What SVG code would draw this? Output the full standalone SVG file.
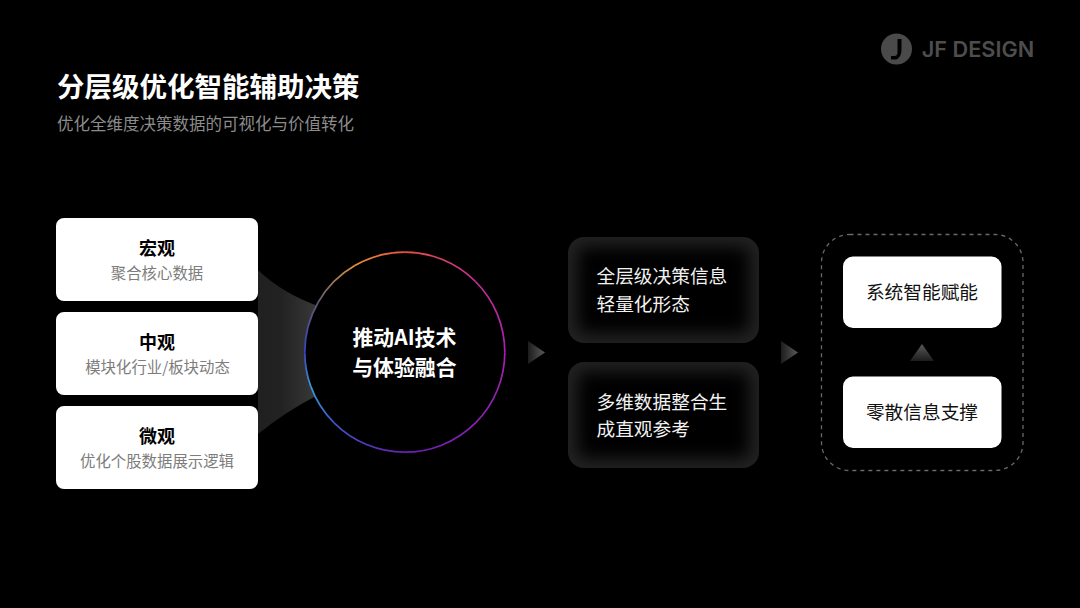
<svg xmlns="http://www.w3.org/2000/svg" width="1080" height="608" viewBox="0 0 1080 608">
<style>
text{font-family:"Noto Sans CJK SC","Noto Sans",sans-serif;text-anchor:middle}
.card{fill:#fff}
.ct{font-size:18px;font-weight:700;fill:#000}
.cs{font-size:15.4px;fill:#7d7d7d}
.mid{font-size:18.7px;fill:#f2f2f2;text-anchor:start}
.wt{font-size:18.7px;fill:#111}
.ring{fill:none;stroke-width:1.7}
</style>
<defs>
<linearGradient id="fun" gradientUnits="userSpaceOnUse" x1="258" y1="0" x2="316" y2="0"><stop offset="0" stop-color="#202020"/><stop offset=".4" stop-color="#222"/><stop offset="1" stop-color="#383838"/></linearGradient>
<linearGradient id="ar" x1="0" y1="0" x2="1" y2="0"><stop offset="0" stop-color="#1c1c1c"/><stop offset="1" stop-color="#5a5a5a"/></linearGradient>
<linearGradient id="au" x1="0" y1="0" x2="0" y2="1"><stop offset="0" stop-color="#5a5a5a"/><stop offset="1" stop-color="#1c1c1c"/></linearGradient>
<linearGradient id="r1" gradientUnits="userSpaceOnUse" x1="404.8" y1="252.2" x2="475.5" y2="281.5"><stop offset="0" stop-color="#e8503f"/><stop offset="1" stop-color="#c92f95"/></linearGradient>
<linearGradient id="r2" gradientUnits="userSpaceOnUse" x1="475.5" y1="281.5" x2="504.8" y2="352.2"><stop offset="0" stop-color="#c92f95"/><stop offset="1" stop-color="#a820b0"/></linearGradient>
<linearGradient id="r3" gradientUnits="userSpaceOnUse" x1="504.8" y1="352.2" x2="404.8" y2="452.2"><stop offset="0" stop-color="#a820b0"/><stop offset="1" stop-color="#6a20b4"/></linearGradient>
<linearGradient id="r4" gradientUnits="userSpaceOnUse" x1="404.8" y1="452.2" x2="334.1" y2="422.9"><stop offset="0" stop-color="#6a20b4"/><stop offset="1" stop-color="#3f55c8"/></linearGradient>
<linearGradient id="r5" gradientUnits="userSpaceOnUse" x1="334.1" y1="422.9" x2="310.8" y2="386.4"><stop offset="0" stop-color="#3f55c8"/><stop offset="1" stop-color="#369bdc"/></linearGradient>
<linearGradient id="r6" gradientUnits="userSpaceOnUse" x1="310.8" y1="386.4" x2="304.8" y2="352.2"><stop offset="0" stop-color="#369bdc"/><stop offset="1" stop-color="#3a45c0"/></linearGradient>
<linearGradient id="r7" gradientUnits="userSpaceOnUse" x1="304.8" y1="352.2" x2="318.2" y2="302.2"><stop offset="0" stop-color="#3a45c0"/><stop offset="1" stop-color="#5f5a70"/></linearGradient>
<linearGradient id="r8" gradientUnits="userSpaceOnUse" x1="318.2" y1="302.2" x2="354.8" y2="265.6"><stop offset="0" stop-color="#5f5a70"/><stop offset="1" stop-color="#e0933a"/></linearGradient>
<linearGradient id="r9" gradientUnits="userSpaceOnUse" x1="354.8" y1="265.6" x2="404.8" y2="252.2"><stop offset="0" stop-color="#e0933a"/><stop offset="1" stop-color="#e8503f"/></linearGradient>
<filter id="soft" x="-20%" y="-20%" width="140%" height="140%"><feGaussianBlur stdDeviation="8"/></filter>
<clipPath id="c1"><rect x="568" y="237" width="191" height="106" rx="16"/></clipPath>
<clipPath id="c2"><rect x="568" y="362" width="191" height="106" rx="16"/></clipPath>
</defs>
<rect width="1080" height="608" fill="#000"/>
<g id="logo">
<circle cx="896.500" cy="49" r="15.500" fill="#4a4a4a"/>
<path d="M897.500 39H901.500V50Q901.500 56.500 896.500 59.500H891V56H894.500Q897.500 56 897.500 52Z" fill="#000"/>
<text x="978" y="57" style="font-family:Inter,sans-serif;font-size:21.700px;font-weight:600;fill:#4d4d4d">JF DESIGN</text>
</g>
<g id="title">
<text x="57" y="97" style="font-size:27.500px;font-weight:700;fill:#fff;text-anchor:start">分层级优化智能辅助决策</text>
<text x="57" y="130" style="font-size:16.500px;fill:#8c8c8c;text-anchor:start">优化全维度决策数据的可视化与价值转化</text>
</g>
<g id="connectors">
<path d="M258 270Q282 293 318 306L316 396Q285 412 258 434Z" fill="url(#fun)"/>
<path d="M528 341L545 352.500L528 364Z" fill="url(#ar)"/>
<path d="M781 341L798 352.500L781 364Z" fill="url(#ar)"/>
<path d="M922 344L934 361H910Z" fill="url(#au)"/>
</g>
<g id="node-macro"><rect class="card" x="56" y="218" width="202" height="83" rx="8"/><text class="ct" x="157" y="255">宏观</text><text class="cs" x="157" y="279">聚合核心数据</text></g>
<g id="node-meso"><rect class="card" x="56" y="312" width="202" height="83" rx="8"/><text class="ct" x="157" y="349">中观</text><text class="cs" x="157.500" y="373">模块化行业/板块动态</text></g>
<g id="node-micro"><rect class="card" x="56" y="406" width="202" height="83" rx="8"/><text class="ct" x="157" y="443">微观</text><text class="cs" x="157" y="467">优化个股数据展示逻辑</text></g>
<g id="node-core">
<circle cx="404.800" cy="352.200" r="100" fill="#000"/>
<path class="ring" stroke="url(#r1)" d="M404.800 252.200A100 100 0 0 1 475.500 281.500"/>
<path class="ring" stroke="url(#r2)" d="M475.500 281.500A100 100 0 0 1 504.800 352.200"/>
<path class="ring" stroke="url(#r3)" d="M504.800 352.200A100 100 0 0 1 404.800 452.200"/>
<path class="ring" stroke="url(#r4)" d="M404.800 452.200A100 100 0 0 1 334.100 422.900"/>
<path class="ring" stroke="url(#r5)" d="M334.100 422.900A100 100 0 0 1 310.800 386.400"/>
<path class="ring" stroke="url(#r6)" d="M310.800 386.400A100 100 0 0 1 304.800 352.200"/>
<path class="ring" stroke="url(#r7)" d="M304.800 352.200A100 100 0 0 1 318.200 302.200"/>
<path class="ring" stroke="url(#r8)" d="M318.200 302.200A100 100 0 0 1 354.800 265.600"/>
<path class="ring" stroke="url(#r9)" d="M354.800 265.600A100 100 0 0 1 404.800 252.200"/>
<text x="404.400" y="345" style="font-size:20.900px;font-weight:700;fill:#fff">推动AI技术</text>
<text x="404.400" y="375" style="font-size:20.900px;font-weight:700;fill:#fff">与体验融合</text>
</g>
<g id="node-info1">
<rect x="568" y="237" width="191" height="106" rx="16" fill="#212121"/>
<g clip-path="url(#c1)"><rect x="578" y="247" width="171" height="86" rx="8" fill="#000" filter="url(#soft)"/></g>
<text class="mid" x="596.500" y="283">全层级决策信息</text><text class="mid" x="596.500" y="311">轻量化形态</text>
</g>
<g id="node-info2">
<rect x="568" y="362" width="191" height="106" rx="16" fill="#212121"/>
<g clip-path="url(#c2)"><rect x="578" y="372" width="171" height="86" rx="8" fill="#000" filter="url(#soft)"/></g>
<text class="mid" x="596.500" y="408.500">多维数据整合生</text><text class="mid" x="596.500" y="436">成直观参考</text>
</g>
<g id="node-group"><rect x="821.500" y="234.500" width="201.500" height="236" rx="28" fill="none" stroke="#686868" stroke-width="1.300" stroke-dasharray="4 4"/></g>
<g id="node-system"><rect class="card" x="843" y="256.500" width="158.500" height="71.500" rx="10"/><text class="wt" x="922" y="299">系统智能赋能</text></g>
<g id="node-scattered"><rect class="card" x="843" y="376.500" width="158.500" height="71.500" rx="10"/><text class="wt" x="922" y="419">零散信息支撑</text></g>
</svg>
